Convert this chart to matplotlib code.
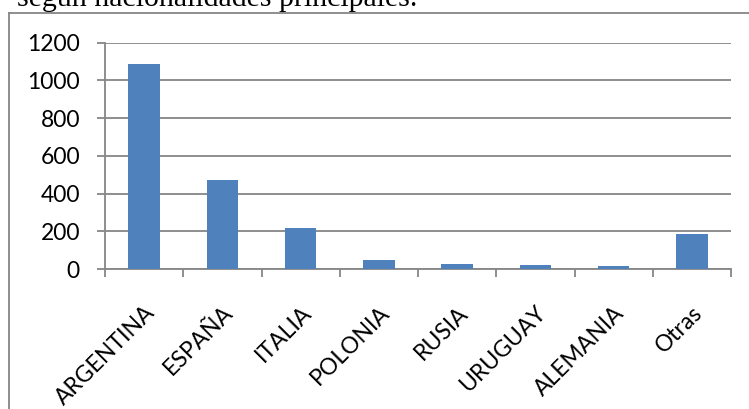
import matplotlib
matplotlib.use("Agg")
import matplotlib.pyplot as plt
import matplotlib.transforms as mtransforms
from matplotlib.lines import Line2D
import numpy as np

W, H, DPI = 749, 409, 100

COL_BAR = "#4F81BD"
COL_GRID = "#868686"

categories = ["ARGENTINA", "ESPAÑA", "ITALIA", "POLONIA", "RUSIA", "URUGUAY", "ALEMANIA", "Otras"]
values = [1085, 473, 218, 48, 27, 23, 18, 186]
yticks = [0, 200, 400, 600, 800, 1000, 1200]

fig = plt.figure(figsize=(W / DPI, H / DPI), dpi=DPI)

# caption above the chart, cut off by the top edge of the picture
fig.text(17 / W, 1 - 6 / H, "según nacionalidades principales.", family="Liberation Serif",
         fontsize=21.5, ha="left", va="baseline", color="black")

# chart frame (only its left and top edges fall inside the picture)
fig.add_artist(Line2D([9 / W, 9 / W], [0, 1 - 13 / H], color=COL_GRID, lw=1.3, transform=fig.transFigure))
fig.add_artist(Line2D([9 / W, 1], [1 - 13 / H, 1 - 13 / H], color=COL_GRID, lw=1.3, transform=fig.transFigure))

ax = fig.add_axes([105 / W, 1 - 269 / H, (731 - 105) / W, (269 - 42.7) / H])
x = np.arange(len(categories))
ax.bar(x, values, width=0.4, color=COL_BAR, zorder=3)

ax.set_xlim(-0.5, len(categories) - 0.5)
ax.set_ylim(0, 1200)
ax.set_yticks(yticks)
ax.set_yticklabels([str(v) for v in yticks], family="Lato", fontsize=16.5)
ax.yaxis.grid(True, color=COL_GRID, lw=1.3, zorder=0)

ax.set_xticks(x)
ax.set_xticklabels(categories, rotation=45, ha="right", va="top", rotation_mode="anchor",
                   family="Lato", fontsize=16.5)
# tip of each label sits a little right of the category centre
shift = mtransforms.ScaledTranslation(4.5 / DPI, 0, fig.dpi_scale_trans)
for lab in ax.get_xticklabels():
    lab.set_transform(lab.get_transform() + shift)
ax.set_xticks(np.arange(len(categories) + 1) - 0.5, minor=True)
ax.tick_params(axis="x", which="major", length=0, pad=33 * 72 / DPI)
ax.tick_params(axis="x", which="minor", length=6, width=1.3, color=COL_GRID)
ax.tick_params(axis="y", length=6, width=1.3, color=COL_GRID, pad=12)

for side in ("top", "right"):
    ax.spines[side].set_visible(False)
for side in ("left", "bottom"):
    ax.spines[side].set_color(COL_GRID)
    ax.spines[side].set_linewidth(1.3)

fig.savefig("out.png", dpi=DPI)
